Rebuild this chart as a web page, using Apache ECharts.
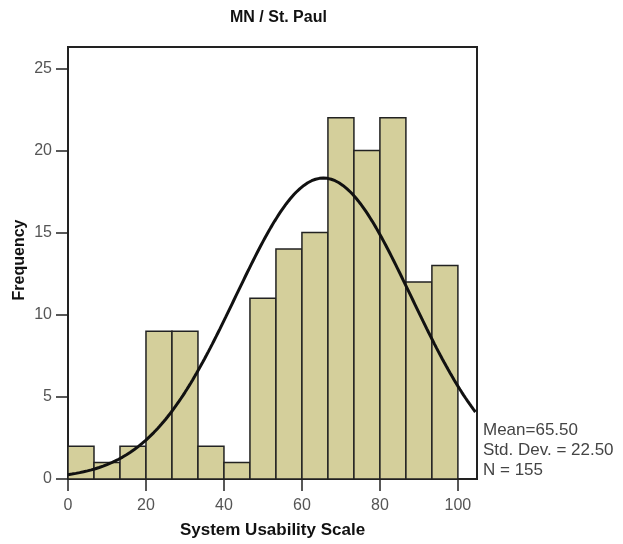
<!DOCTYPE html>
<html>
<head>
<meta charset="utf-8">
<script src="https://cdn.jsdelivr.net/npm/echarts@6/dist/echarts.min.js"></script>
<style>
  html, body { margin: 0; padding: 0; background: #fff; }
  #chart { width: 623px; height: 544px; }
</style>
</head>
<body>
<div id="chart"></div>
<script>
// Histogram of System Usability Scale scores, 15 equal bins over 0–100
const binLow = 0;
const binHigh = 100;
const counts = [2, 1, 2, 9, 9, 2, 1, 11, 14, 15, 22, 20, 22, 12, 13];
const xTicks = [0, 20, 40, 60, 80, 100];
const yTicks = [0, 5, 10, 15, 20, 25];

// Summary statistics shown beside the plot; the fitted normal curve uses them
const mean = 65.5;
const stdDev = 22.5;
const n = 155;

const binWidth = (binHigh - binLow) / counts.length;
const bars = counts.map((c, i) => [binLow + i * binWidth, binLow + (i + 1) * binWidth, c]);

const xMax = 104.9;
const yMax = 26.3;

// Normal density scaled to counts per bin
const curve = [];
for (let x = 0; x <= xMax + 0.001; x += 0.5) {
  const z = (x - mean) / stdDev;
  const y = n * binWidth * Math.exp(-0.5 * z * z) / (stdDev * Math.sqrt(2 * Math.PI));
  curve.push([x, y]);
}

const chart = echarts.init(document.getElementById('chart'), null, { renderer: 'canvas' });
const sans = '"Liberation Sans", Arial, sans-serif';
const labelFont = { color: '#555', fontSize: 16, fontFamily: sans };

chart.setOption({
  animation: false,
  grid: {
    left: 68, right: 146, top: 47, bottom: 65,
    containLabel: false, outerBoundsMode: 'none',
    show: true, borderColor: '#222', borderWidth: 2, backgroundColor: '#fff'
  },
  xAxis: {
    type: 'value', min: 0, max: xMax, interval: 20,
    axisLine: { show: true, onZero: false, lineStyle: { color: '#222', width: 2 } },
    axisTick: { show: true, length: 12, lineStyle: { color: '#222', width: 1.5 } },
    axisLabel: Object.assign({ margin: 19, showMaxLabel: false,
      formatter: v => xTicks.includes(v) ? String(v) : '' }, labelFont),
    splitLine: { show: false },
    name: 'System Usability Scale', nameLocation: 'middle', nameGap: 43,
    nameTextStyle: { color: '#111', fontSize: 17, fontWeight: 'bold', fontFamily: sans }
  },
  yAxis: {
    type: 'value', min: 0, max: yMax, interval: 5,
    axisLine: { show: true, lineStyle: { color: '#222', width: 2 } },
    axisTick: { show: true, length: 12, lineStyle: { color: '#222', width: 1.5 } },
    axisLabel: Object.assign({ margin: 16, showMaxLabel: false,
      formatter: v => yTicks.includes(v) ? String(v) : '' }, labelFont),
    splitLine: { show: false }
  },
  graphic: [
    {
      type: 'text', left: 230, top: 10,
      style: {
        text: 'MN / St. Paul', fill: '#111', fontSize: 16, fontWeight: 'bold',
        fontFamily: sans, textAlign: 'center'
      }
    },
    {
      // vertical axis title
      type: 'text', x: 20, y: 260, rotation: Math.PI / 2,
      style: {
        text: 'Frequency', fill: '#111', fontSize: 16, fontWeight: 'bold',
        fontFamily: sans, align: 'center', verticalAlign: 'middle'
      }
    },
    {
      type: 'text', left: 483, top: 420,
      style: {
        text: 'Mean=' + mean.toFixed(2) + '\nStd. Dev. = ' + stdDev.toFixed(2) + '\nN = ' + n,
        fill: '#444', fontSize: 17, lineHeight: 20, fontFamily: sans
      }
    }
  ],
  series: [
    {
      type: 'custom',
      data: bars,
      renderItem: function (params, api) {
        const p0 = api.coord([api.value(0), api.value(2)]);
        const p1 = api.coord([api.value(1), 0]);
        return {
          type: 'rect',
          shape: { x: p0[0], y: p0[1], width: p1[0] - p0[0], height: p1[1] - p0[1] },
          style: { fill: '#d4cf9b', stroke: '#222', lineWidth: 1.5 }
        };
      },
      encode: { x: [0, 1], y: 2 },
      z: 2
    },
    {
      type: 'line',
      data: curve,
      showSymbol: false,
      smooth: false,
      clip: true,
      lineStyle: { color: '#111', width: 3 },
      z: 3
    }
  ]
});
</script>
</body>
</html>
